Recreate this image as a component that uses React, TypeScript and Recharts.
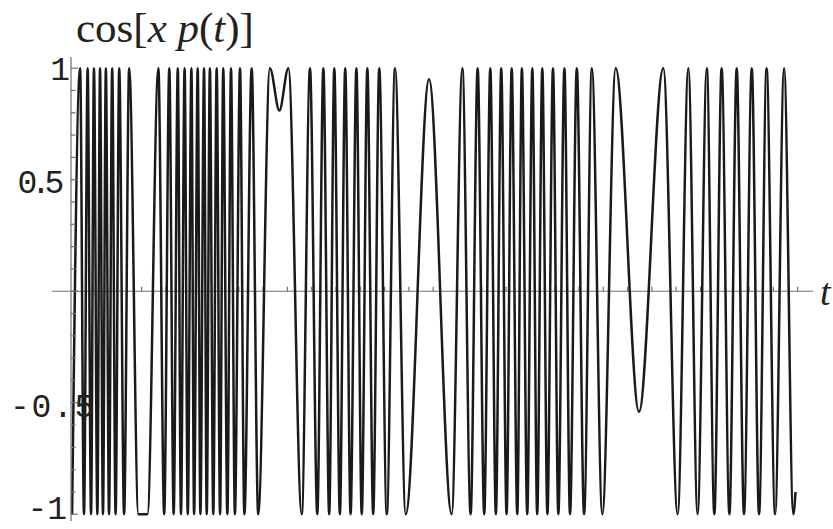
import React from 'react';
import { LineChart, Line, XAxis, YAxis, ReferenceLine } from 'recharts';

// Turning points of cos[x p(t)] (t in tick units), with the value reached there.
const tValues = [
  0.14, 0.47, 0.63, 0.78, 0.92, 1.04, 1.18, 1.29, 1.41, 1.53, 1.66, 1.79, 1.93, 2.08, 2.28, 2.49,
  2.87, 3.24, 3.69, 3.93, 4.14, 4.32, 4.49, 4.62, 4.77, 4.9, 5.05, 5.16, 5.31, 5.42, 5.57, 5.68,
  5.81, 5.95, 6.09, 6.23, 6.36, 6.53, 6.68, 6.84, 7.05, 7.23, 7.53, 7.8, 8.28, 8.67, 9.04, 9.59,
  9.93, 10.23, 10.48, 10.72, 10.93, 11.16, 11.38, 11.6, 11.84, 12.06, 12.29, 12.53, 12.78, 13.09,
  13.43, 13.87, 14.83, 15.76, 16.2, 16.54, 16.83, 17.1, 17.35, 17.58, 17.8, 18.02, 18.23, 18.46,
  18.65, 18.87, 19.08, 19.28, 19.49, 19.7, 19.93, 20.15, 20.4, 20.63, 20.91, 21.21, 21.53, 21.96,
  22.51, 23.47, 24.47, 25.06, 25.5, 25.88, 26.26, 26.57, 26.87, 27.19, 27.49, 27.79, 28.11, 28.41,
  28.72, 29.07, 29.44, 29.82, 29.91,
];
const cosValues = [
  -1, 1, -1, 1, -1, 1, -1, 1, -1, 1, -1, 1, -1, 1, -1, 1,
  -1, -1, 1, -1, 1, -1, 1, -1, 1, -1, 1, -1, 1, -1, 1, -1,
  1, -1, 1, -1, 1, -1, 1, -1, 1, -1, 1, -1, 1, 0.81, 1, -1,
  1, -1, 1, -1, 1, -1, 1, -1, 1, -1, 1, -1, 1, -1,
  1, -1, 0.95, -1, 1, -1, 1, -1, 1, -1, 1, -1, 1, -1,
  1, -1, 1, -1, 1, -1, 1, -1, 1, -1, 1, -1, 1, -1,
  1, -0.54, 1, -1, 1, -1, 1, -1, 1, -1, 1, -1, 1, -1,
  1, -1, 1, -1, -0.9,
];

const xTickValues = [
  1, 2, 3, 4, 5, 6, 7, 8, 9, 10, 11, 12, 13, 14, 15, 16, 17, 18, 19, 20, 21, 22, 23, 24, 25, 26, 27, 28,
  29, 30,
];
const yTickValues = [-1, -0.9, -0.8, -0.7, -0.6, -0.5, -0.4, -0.3, -0.2, -0.1, 0, 0.1, 0.2, 0.3, 0.4, 0.5, 0.6, 0.7, 0.8, 0.9, 1];
const yTickLabels = ['-1', '-0.5', '0.5', '1'];

const tDomain: [number, number] = [0.095, 30.63];
const axisLeftT = -0.69;
const yDomain: [number, number] = [-1.03, 1.05];

const data = tValues.map((t, i) => ({ t, v: cosValues[i] }));

const AXIS = '#707070';
const INK = '#1a1a1a';

// label placement for the Mathematica-style tick label typesetting
const labelStyle: Record<string, { endX: number; dy: number; spacing: number }> = {
  '1': { endX: 70, dy: 1, spacing: 0 },
  '0.5': { endX: 58, dy: 2.5, spacing: -6.3 },
  '-0.5': { endX: 96, dy: 3.5, spacing: 1.7 },
  '-1': { endX: 67, dy: -6, spacing: 0 },
};

const YTick = (props: any) => {
  const { x, y, payload } = props;
  const v = Math.round(payload.value * 10) / 10;
  const major = Math.abs(v * 2 - Math.round(v * 2)) < 1e-6;
  const len = major ? 7 : 4.5;
  const key = String(v);
  const hasLabel = yTickLabels.includes(key);
  const st = labelStyle[key];
  return (
    <g>
      <line x1={x} x2={x + len} y1={y} y2={y} stroke={AXIS} strokeWidth={1.2} />
      {hasLabel && st && (
        <text
          x={st.endX}
          y={y + 11 + st.dy}
          textAnchor="end"
          fontFamily="'Liberation Mono', monospace"
          fontSize={33}
          letterSpacing={st.spacing}
          fill="#222"
        >
          {key}
        </text>
      )}
    </g>
  );
};

export default function App() {
  return (
    <div style={{ position: 'absolute', left: 0, top: 0, width: 833, height: 529, background: '#fff' }}>
      <LineChart width={833} height={529} data={data} margin={{ top: 57, right: 20, bottom: 8, left: 11 }}>
        <XAxis type="number" dataKey="t" domain={tDomain} allowDataOverflow hide />
        <YAxis
          type="number"
          domain={yDomain}
          ticks={yTickValues}
          interval={0}
          width={60}
          tickSize={0}
          tickMargin={0}
          tickLine={false}
          axisLine={{ stroke: AXIS, strokeWidth: 1.2 }}
          tick={(p: any) => <YTick {...p} />}
        />
        <ReferenceLine
          segment={[{ x: axisLeftT, y: 0 }, { x: tDomain[1], y: 0 }]}
          ifOverflow="visible"
          stroke={AXIS}
          strokeWidth={1.2}
        />
        {xTickValues.map((t) => (
          <ReferenceLine
            key={t}
            segment={[{ x: t, y: 0 }, { x: t, y: 0.02 }]}
            ifOverflow="visible"
            stroke={AXIS}
            strokeWidth={1.2}
          />
        ))}
        <Line
          type="monotone"
          dataKey="v"
          stroke={INK}
          strokeWidth={2.5}
          dot={false}
          isAnimationActive={false}
        />
      </LineChart>
      <svg
        width={833}
        height={529}
        style={{ position: 'absolute', left: 0, top: 0, pointerEvents: 'none' }}
      >
        <text x={76} y={42} fontFamily="'Liberation Serif', serif" fontSize={43} fill="#222">
          cos[<tspan fontStyle="italic">x</tspan> <tspan fontStyle="italic">p</tspan>(<tspan fontStyle="italic">t</tspan>)]
        </text>
        <text x={820} y={305} fontFamily="'Liberation Serif', serif" fontSize={38} fontStyle="italic" fill="#222">
          t
        </text>
      </svg>
    </div>
  );
}
